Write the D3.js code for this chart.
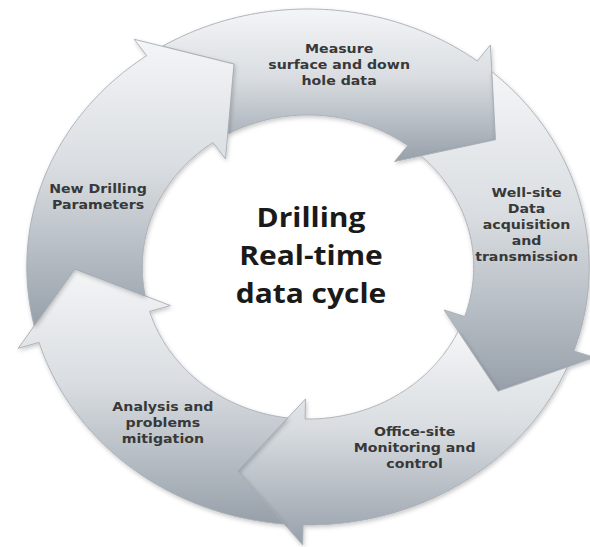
<!DOCTYPE html>
<html>
<head>
<meta charset="utf-8">
<script src="https://cdn.jsdelivr.net/npm/d3@7"></script>
<style>
  html, body { margin: 0; padding: 0; background: #ffffff; }
  svg { display: block; }
</style>
</head>
<body>
<svg id="chart" width="590" height="547"></svg>
<script>
// ---- data ----
const stepLabels = [
  ["Measure", "surface and down", "hole data"],
  ["Well-site", "Data", "acquisition", "and", "transmission"],
  ["Office-site", "Monitoring and", "control"],
  ["Analysis and", "problems", "mitigation"],
  ["New Drilling", "Parameters"]
];
const centerTitle = ["Drilling", "Real-time", "data cycle"];

// ---- layout (positions, not data) ----
const labelAngles = [8, 78, 151.5, 220.5, 290];   // degrees clockwise from 12 o'clock
const cx = 308, cy = 267, sx = 1.09;
const rIn = 152, rOut = 258, barbIn = 132, barbOut = 278, tipR = 214;
const headSpan = 16.5;          // degrees from head base to tip
const firstHead = 37;           // degrees, clockwise from 12 o'clock

const svg = d3.select("#chart");
const defs = svg.append("defs");

const grad = defs.append("linearGradient")
  .attr("id", "arrowGrad")
  .attr("x1", 0).attr("y1", 0).attr("x2", 0).attr("y2", 1);
grad.append("stop").attr("offset", "0%").attr("stop-color", "#f4f5f7");
grad.append("stop").attr("offset", "45%").attr("stop-color", "#d9dde1");
grad.append("stop").attr("offset", "100%").attr("stop-color", "#97a0aa");

const filt = defs.append("filter").attr("id", "shadow")
  .attr("x", "-10%").attr("y", "-10%").attr("width", "120%").attr("height", "120%");
filt.append("feDropShadow").attr("dx", 1).attr("dy", 2)
  .attr("stdDeviation", 2).attr("flood-color", "#000").attr("flood-opacity", 0.22);

const n = stepLabels.length;
const angle = d3.scaleLinear().domain([0, n]).range([firstHead, firstHead + 360]);
const rad = d => d * Math.PI / 180;

const pol = (r, a) => [r * Math.sin(rad(a)), -r * Math.cos(rad(a))];
const toScreen = p => [cx + sx * p[0], cy + p[1]];

function intersect(A, B, R) {
  const d = [B[0] - A[0], B[1] - A[1]];
  const a = d[0] * d[0] + d[1] * d[1];
  const b = 2 * (A[0] * d[0] + A[1] * d[1]);
  const c = A[0] * A[0] + A[1] * A[1] - R * R;
  const disc = Math.sqrt(Math.max(0, b * b - 4 * a * c));
  const t1 = (-b - disc) / (2 * a), t2 = (-b + disc) / (2 * a);
  const t = (t1 >= 0 && t1 <= 1) ? t1 : t2;
  return [A[0] + t * d[0], A[1] + t * d[1]];
}
const angOf = p => Math.atan2(p[0], -p[1]) * 180 / Math.PI;

function arc(r, a0, a1) {
  const pts = [];
  const steps = Math.max(2, Math.ceil(Math.abs(a1 - a0) / 0.5));
  for (let k = 0; k <= steps; k++) pts.push(pol(r, a0 + (a1 - a0) * k / steps));
  return pts;
}

function arrowPoints(i) {
  const h = angle(i);
  const hp = h - 360 / n;
  const pOutB = pol(barbOut, hp), pInB = pol(barbIn, hp), pTip = pol(tipR, hp + headSpan);
  const Ao = intersect(pOutB, pTip, rOut);
  const Ai = intersect(pInB, pTip, rIn);
  let ao = angOf(Ao), ai = angOf(Ai);
  while (ao > h) ao -= 360; while (ao < hp - 20) ao += 360;
  while (ai > h) ai -= 360; while (ai < hp - 20) ai += 360;
  let pts = [];
  pts.push(pol(rOut, ao));
  pts.push(pTip);
  pts = pts.concat(arc(rIn, ai, h));
  pts.push(pol(barbIn, h));
  pts.push(pol(tipR, h + headSpan));
  pts.push(pol(barbOut, h));
  pts = pts.concat(arc(rOut, h, ao));
  return pts.map(toScreen);
}

const line = d3.line().curve(d3.curveLinearClosed);

svg.append("g").attr("class", "arrows")
  .selectAll("path")
  .data(d3.range(n))
  .join("path")
  .attr("d", i => line(arrowPoints(i)))
  .attr("fill", "url(#arrowGrad)")
  .attr("stroke", "#a7adb3")
  .attr("stroke-width", 0.9)
  .attr("stroke-linejoin", "miter")
  .attr("filter", "url(#shadow)");

// step labels
const labelR = 205, lh = 16;
svg.append("g").attr("class", "labels")
  .selectAll("g")
  .data(stepLabels)
  .join("g")
  .attr("transform", (d, i) => {
    const p = toScreen(pol(labelR, labelAngles[i]));
    return `translate(${p[0]},${p[1]}) scale(${sx},1)`;
  })
  .each(function (lines) {
    const g = d3.select(this);
    const y0 = -(lines.length - 1) * lh / 2;
    g.selectAll("text").data(lines).join("text")
      .attr("x", 0)
      .attr("y", (d, k) => y0 + k * lh)
      .attr("dy", "0.35em")
      .attr("text-anchor", "middle")
      .attr("font-family", "'DejaVu Sans', Verdana, sans-serif")
      .attr("font-weight", "bold")
      .attr("font-size", 13)
      .attr("fill", "#383838")
      .text(d => d);
  });

// center title
const title = svg.append("g")
  .attr("transform", `translate(${cx + 3},0) scale(${sx},1)`);
title.selectAll("text").data(centerTitle).join("text")
  .attr("x", 0)
  .attr("y", (d, k) => 227 + k * 38)
  .attr("text-anchor", "middle")
  .attr("font-family", "'Open Sans', sans-serif")
  .attr("font-weight", "bold")
  .attr("font-size", 27.5)
  .attr("fill", "#1a1a1a")
  .text(d => d);
</script>
</body>
</html>
